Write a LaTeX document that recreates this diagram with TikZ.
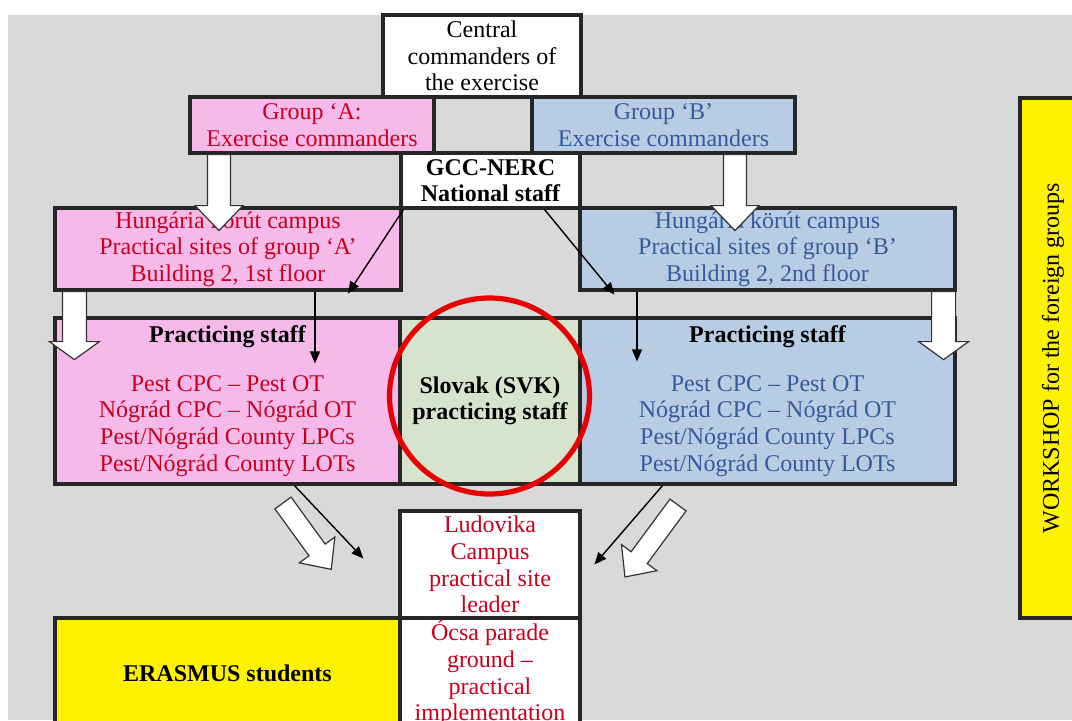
\documentclass[tikz,border=0pt]{standalone}
\usepackage{fontspec}
\setmainfont{Liberation Serif}
\usetikzlibrary{arrows.meta,calc}

\definecolor{bggrey}{RGB}{217,217,217}
\definecolor{pinkfill}{RGB}{245,186,234}
\definecolor{bluefill}{RGB}{184,204,228}
\definecolor{greenfill}{RGB}{215,228,205}
\definecolor{redtext}{RGB}{200,0,30}
\definecolor{bluetext}{RGB}{55,90,155}
\definecolor{ringred}{RGB}{232,0,0}

\tikzset{
  every node/.style={font=\fontsize{12}{13.3}\selectfont},
  box/.style={draw=black!85, line width=1.6pt, align=center, inner sep=0pt},
  boxA/.style={box, fill=pinkfill, text=redtext},
  boxB/.style={box, fill=bluefill, text=bluetext},
  boldbox/.style={box, font=\fontsize{12}{13.3}\selectfont\bfseries},
  thinarr/.style={line width=0.7pt, -{Triangle[length=6pt,width=5pt]}},
  fatarr/.style={draw=black!80, line width=0.6pt, fill=white},
  ring/.style={draw=ringred, line width=2.6pt}
}

% white block arrow: tail, angle, length, half shaft, half head, head length
\newcommand{\fatarrow}[6]{%
  \draw[fatarr, shift={#1}, rotate=#2]
    (0pt,#4) -- ({#3-#6},#4) -- ({#3-#6},#5) -- (#3,0pt)
    -- ({#3-#6},-#5) -- ({#3-#6},-#4) -- (0pt,-#4) -- cycle;}

\begin{document}
\begin{tikzpicture}[x=0.5pt, y=-0.5pt]
\useasboundingbox (0,0) rectangle (1072,720);
% Background
\fill[bggrey] (8,15) rectangle (1072,720);

% Commanders
\node[box, fill=white, minimum width=99pt, minimum height=41pt] (central) at (482,56)
  {Central\\ commanders of\\ the exercise};
\node[boxA, minimum width=122pt, minimum height=28pt] (grpA) at (312,125)
  {Group ‘A:\\ Exercise commanders};
\node[box, fill=bggrey, minimum width=49pt, minimum height=28pt] (gap) at (483,125) {};
\node[boxB, minimum width=131.5pt, minimum height=28pt] (grpB) at (663.5,125)
  {Group ‘B’\\ Exercise commanders};
\node[boldbox, fill=white, minimum width=89.5pt, minimum height=27.5pt] (gcc) at (490.5,180.5)
  {GCC-NERC\\ National staff};

% Practical sites
\node[boxA, minimum width=173pt, minimum height=41pt] (hunA) at (228,249)
  {Hungária körút campus\\ Practical sites of group ‘A’\\ Building 2, 1st floor};
\node[boxB, minimum width=187.5pt, minimum height=41pt] (hunB) at (767.5,249)
  {Hungária körút campus\\ Practical sites of group ‘B’\\ Building 2, 2nd floor};

% Practicing staff
\node[boxA, minimum width=172.5pt, minimum height=83pt] (pracA) at (227.5,401)
  {{\color{black}\bfseries Practicing staff}\\[11pt]
   Pest CPC – Pest OT\\ Nógrád CPC – Nógrád OT\\
   Pest/Nógrád County LPCs\\ Pest/Nógrád County LOTs};
\node[boldbox, fill=greenfill, minimum width=90pt, minimum height=83pt] (svk) at (490,401)
  {Slovak (SVK)\\ practicing staff};
\node[boxB, minimum width=187.5pt, minimum height=83pt] (pracB) at (767.5,401)
  {{\color{black}\bfseries Practicing staff}\\[11pt]
   Pest CPC – Pest OT\\ Nógrád CPC – Nógrád OT\\
   Pest/Nógrád County LPCs\\ Pest/Nógrád County LOTs};

% Ludovika, Ocsa, Erasmus
\node[box, fill=white, text=redtext, minimum width=90pt, minimum height=53.5pt] (ludo) at (490,564.5)
  {Ludovika\\ Campus\\ practical site\\ leader};
\node[box, fill=white, text=redtext, minimum width=90pt, minimum height=55pt] (ocsa) at (490,673)
  {Ócsa parade\\ ground –\\ practical\\ implementation};
\node[boldbox, fill=yellow, minimum width=172.5pt, minimum height=55pt] (erasmus) at (227.5,673)
  {ERASMUS students};

% Workshop
\node[box, fill=yellow, minimum width=33pt, minimum height=260pt] (workshop) at (1053,358) {};
\node[rotate=90] (wtext) at (workshop.center) {WORKSHOP for the foreign groups};

% White block arrows
\fatarrow{($(grpA.south)+(-93,0)$)}{-90}{38pt}{5.75pt}{12pt}{12.5pt}
\fatarrow{($(grpB.south)+(71.5,0)$)}{-90}{38pt}{5.75pt}{12pt}{12.5pt}
\fatarrow{($(hunA.south west)+(21,0)$)}{-90}{34pt}{6pt}{12.5pt}{9pt}
\fatarrow{($(hunB.south east)+(-13,0)$)}{-90}{34pt}{6pt}{12.5pt}{9pt}
\fatarrow{(283,503)}{-54}{41pt}{5pt}{11pt}{12pt}
\fatarrow{(678,505)}{-126.4}{44.7pt}{5pt}{11pt}{12pt}

% Thin arrows
\draw[thinarr] ($(gcc.south west)+(4,0)$) -- ($(hunA.south)+(120,2)$);
\draw[thinarr] ($(gcc.south east)+(-37,0)$) -- ($(hunB.south west)+(36,3)$);
\draw[thinarr] ($(hunA.south)+(87,0)$) -- ($(pracA.north)+(87.5,47)$);
\draw[thinarr] ($(hunB.south)+(-130.5,0)$) -- ($(pracB.north)+(-130.5,45)$);
\draw[thinarr] ($(pracA.south)+(67,0)$) -- ($(ludo.west)+(-35,-6)$);
\draw[thinarr] ($(pracB.south)+(-105,0)$) -- ($(ludo.west)+(196,0)$);

% Red ring round the Slovak staff
\draw[ring] (489.5,396) ellipse [x radius=50pt, y radius=49pt];
\end{tikzpicture}
\end{document}
